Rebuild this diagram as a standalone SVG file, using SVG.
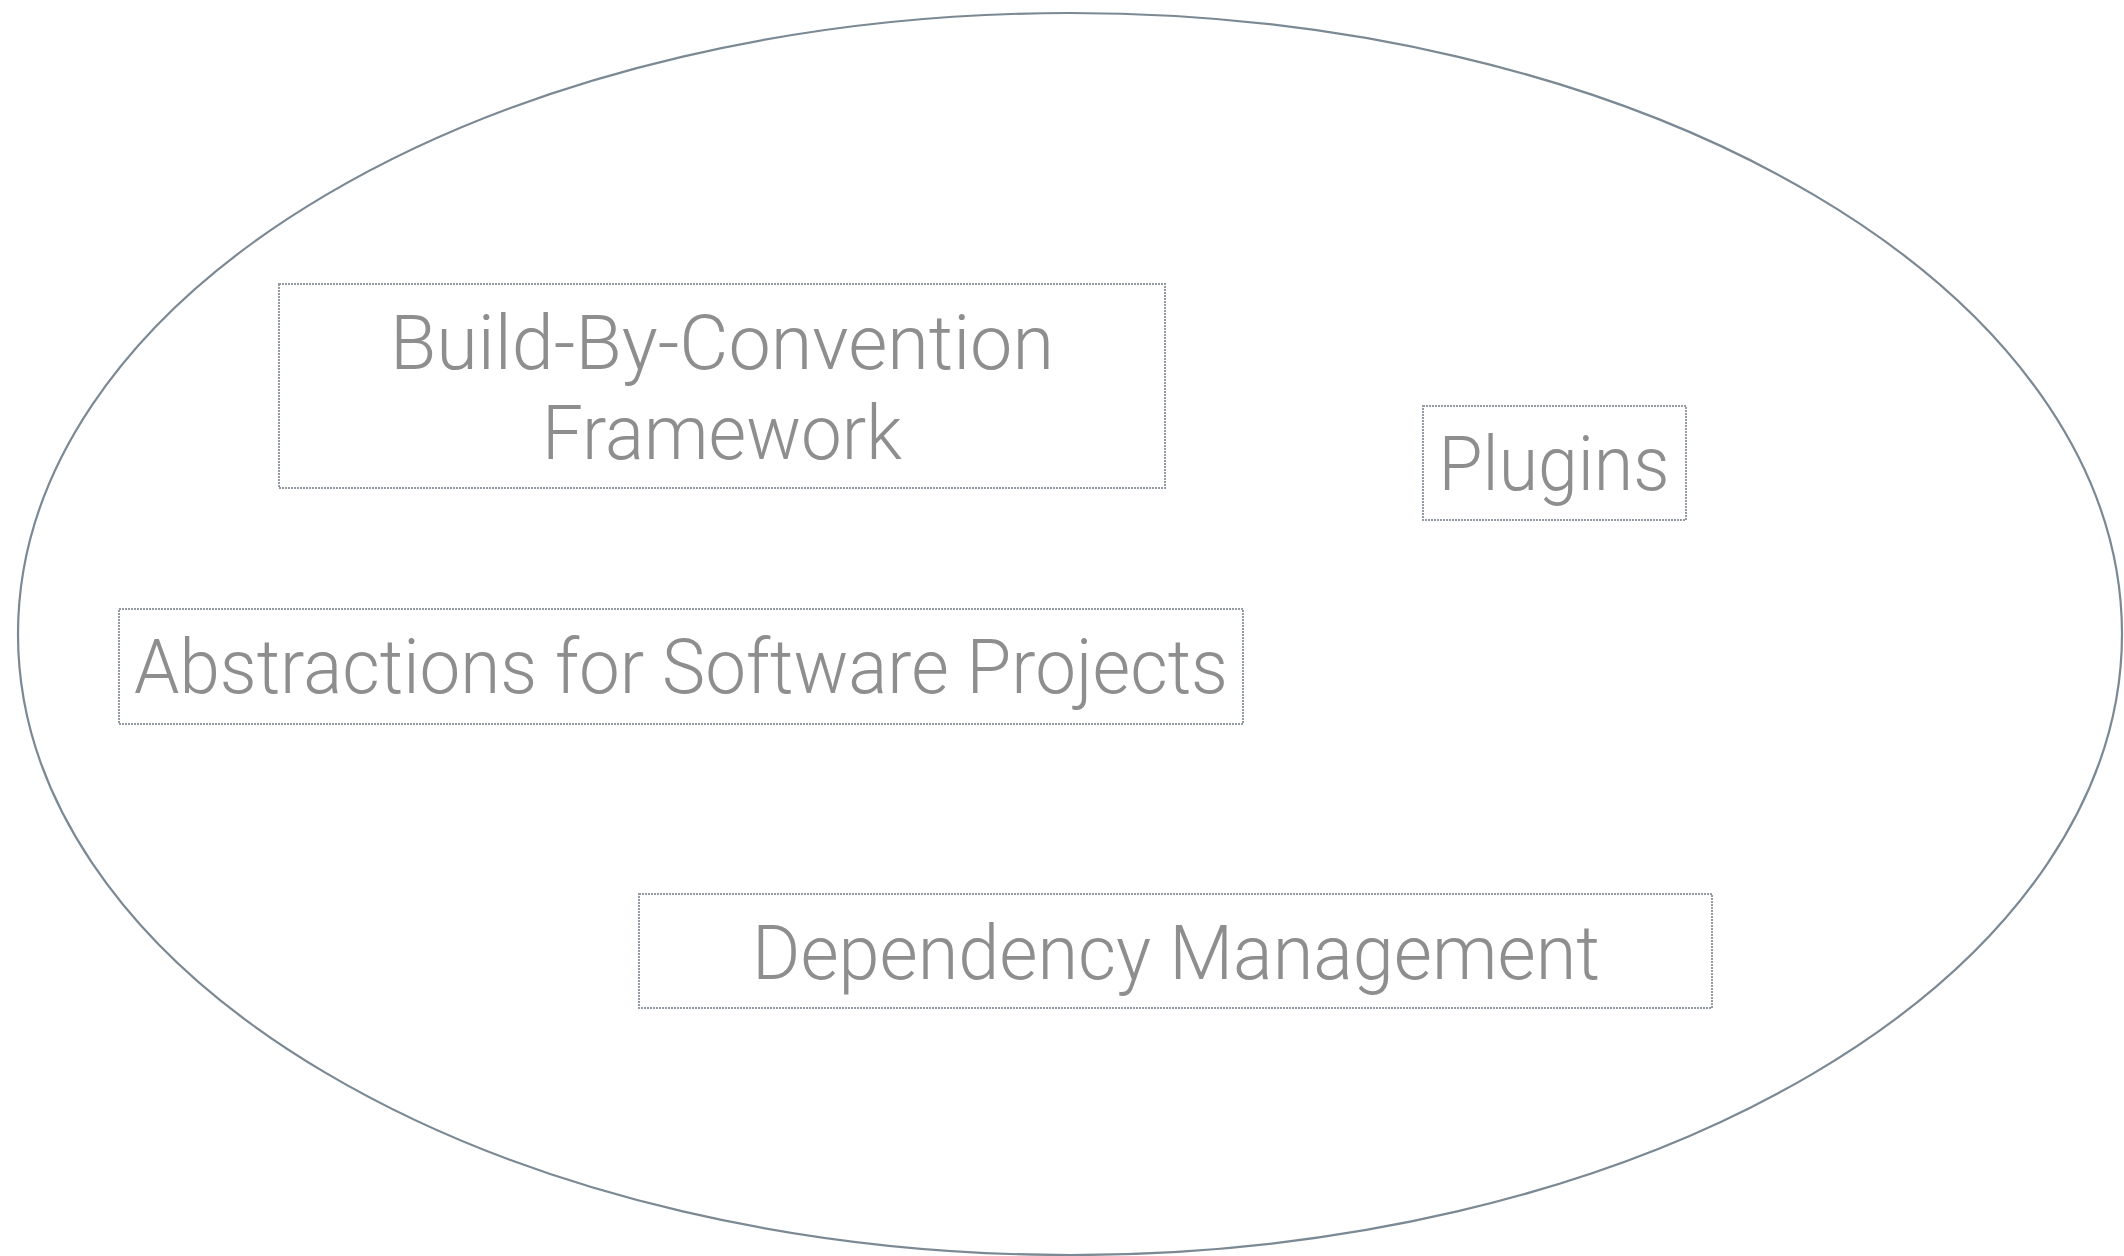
<svg xmlns="http://www.w3.org/2000/svg" width="2124" height="1256" viewBox="0 0 2124 1256">
  <style>
    .frame { fill: none; stroke: #7b8994; stroke-width: 2.2; }
    .box { fill: none; stroke: #959ba2; stroke-width: 2; stroke-dasharray: 2 1; }
    .label { font-family: Roboto, "Liberation Sans", sans-serif; font-weight: 300; font-size: 76px; fill: #8e8e8e; text-anchor: middle; }
  </style>
  <rect width="2124" height="1256" fill="#ffffff"/>
  <g id="scope">
    <ellipse class="frame" cx="1070" cy="634" rx="1052" ry="621"/>
  </g>
  <g id="connectors"></g>
  <g id="build-by-convention">
    <rect class="box" x="279" y="284" width="886" height="204"/>
    <text class="label" x="722" y="369" textLength="664" lengthAdjust="spacingAndGlyphs">Build-By-Convention</text>
    <text class="label" x="722" y="459" textLength="360" lengthAdjust="spacingAndGlyphs">Framework</text>
  </g>
  <g id="plugins">
    <rect class="box" x="1423" y="406" width="263" height="114"/>
    <text class="label" x="1554" y="490" textLength="231" lengthAdjust="spacingAndGlyphs">Plugins</text>
  </g>
  <g id="abstractions">
    <rect class="box" x="119" y="609" width="1124" height="115"/>
    <text class="label" x="681" y="693" textLength="1094" lengthAdjust="spacingAndGlyphs">Abstractions for Software Projects</text>
  </g>
  <g id="dependency-management">
    <rect class="box" x="639" y="894" width="1073" height="114"/>
    <text class="label" x="1176" y="979" textLength="848" lengthAdjust="spacingAndGlyphs">Dependency Management</text>
  </g>
</svg>
